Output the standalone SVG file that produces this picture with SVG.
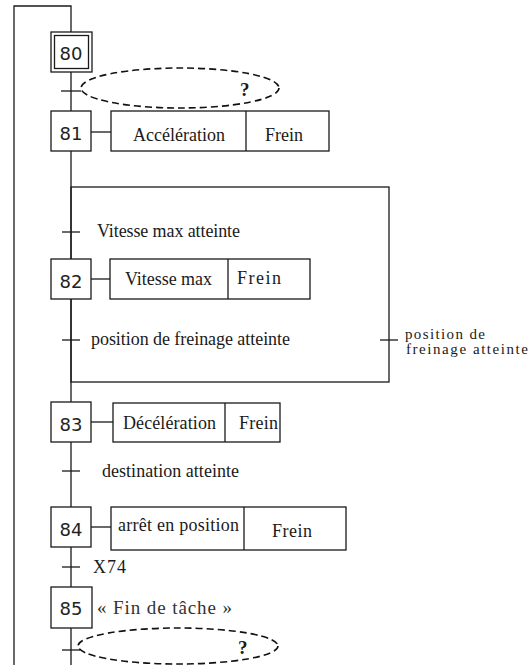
<svg xmlns="http://www.w3.org/2000/svg" width="529" height="665" viewBox="0 0 529 665">
<style>
.ln{stroke:#1a1a1a;stroke-width:1.3;fill:none}
.bx{stroke:#1a1a1a;stroke-width:1.3;fill:#fff}
.num{font-family:"DejaVu Sans",sans-serif;font-size:18px;fill:#222;text-anchor:middle}
.lb{font-family:"Liberation Serif",serif;font-size:18px;fill:#1a1a1a}
.sm{font-family:"Liberation Serif",serif;font-size:15px;fill:#1a1a1a}
.q{font-family:"Liberation Serif",serif;font-size:19px;font-weight:bold;fill:#1a1a1a}
.el{stroke:#111;stroke-width:1.6;fill:none;stroke-dasharray:7 4}
</style>
<rect width="529" height="665" fill="#fff"/>
<g id="connectors">
<polyline class="ln" points="14,665 14,6 71,6 71,665"/>
<rect class="ln" x="71" y="187" width="318" height="195"/>
<line class="ln" x1="61" y1="91" x2="81" y2="91"/>
<line class="ln" x1="62" y1="232" x2="80" y2="232"/>
<line class="ln" x1="62" y1="340" x2="80" y2="340"/>
<line class="ln" x1="380" y1="340" x2="398" y2="340"/>
<line class="ln" x1="62" y1="471" x2="80" y2="471"/>
<line class="ln" x1="62" y1="567" x2="80" y2="567"/>
<line class="ln" x1="62" y1="650" x2="80" y2="650"/>
<line class="ln" x1="91" y1="132" x2="111" y2="132"/>
<line class="ln" x1="91" y1="279" x2="110" y2="279"/>
<line class="ln" x1="91" y1="422" x2="113" y2="422"/>
<line class="ln" x1="91" y1="527" x2="111" y2="527"/>
</g>
<g id="cond80">
<ellipse class="el" cx="180" cy="88" rx="99" ry="20"/>
<text class="q" x="240" y="96">?</text>
</g>
<g id="step80">
<rect class="bx" x="51" y="32" width="41" height="40"/>
<rect class="bx" x="54.5" y="35.5" width="34" height="33"/>
<text class="num" x="71" y="60">80</text>
</g>
<g id="step81">
<rect class="bx" x="51" y="111" width="40" height="40"/>
<text class="num" x="71" y="140">81</text>
</g>
<g id="action81">
<rect class="bx" x="111" y="111" width="218" height="40"/>
<line class="ln" x1="246" y1="111" x2="246" y2="151"/>
<text class="lb" x="133" y="141" textLength="92">Accélération</text>
<text class="lb" x="265" y="141" textLength="38">Frein</text>
</g>
<g id="t81">
<text class="lb" x="97" y="237" textLength="143">Vitesse max atteinte</text>
</g>
<g id="step82">
<rect class="bx" x="51" y="259" width="40" height="40"/>
<text class="num" x="71" y="288">82</text>
</g>
<g id="action82">
<rect class="bx" x="110" y="259" width="200" height="40"/>
<line class="ln" x1="228" y1="259" x2="228" y2="299"/>
<text class="lb" x="125" y="285" textLength="87">Vitesse max</text>
<text class="lb" x="237" y="284" textLength="44">Frein</text>
</g>
<g id="t82">
<text class="lb" x="91" y="345" textLength="199">position de freinage atteinte</text>
</g>
<g id="t81b">
<text class="sm" x="405" y="339" textLength="80">position de</text>
<text class="sm" x="406" y="354" textLength="122">freinage atteinte</text>
</g>
<g id="step83">
<rect class="bx" x="51" y="402" width="40" height="40"/>
<text class="num" x="71" y="431">83</text>
</g>
<g id="action83">
<rect class="bx" x="113" y="403" width="167" height="39"/>
<line class="ln" x1="225" y1="403" x2="225" y2="442"/>
<text class="lb" x="123" y="429" textLength="93">Décélération</text>
<text class="lb" x="239" y="429" textLength="39">Frein</text>
</g>
<g id="t83">
<text class="lb" x="102" y="477" textLength="137">destination atteinte</text>
</g>
<g id="step84">
<rect class="bx" x="51" y="507" width="40" height="40"/>
<text class="num" x="71" y="536">84</text>
</g>
<g id="action84">
<rect class="bx" x="111" y="507" width="235" height="43"/>
<line class="ln" x1="244" y1="507" x2="244" y2="550"/>
<text class="lb" x="118" y="531" textLength="121">arrêt en position</text>
<text class="lb" x="272" y="537" textLength="40">Frein</text>
</g>
<g id="t84">
<text class="lb" x="93" y="573" textLength="33">X74</text>
</g>
<g id="step85">
<rect class="bx" x="51" y="587" width="41" height="41"/>
<text class="num" x="71" y="615">85</text>
<text x="97" y="614" font-family="Liberation Serif, serif" font-size="19" fill="#333" textLength="135">« Fin de tâche »</text>
</g>
<g id="cond85">
<ellipse class="el" cx="178" cy="646" rx="100" ry="18"/>
<text class="q" x="238" y="654">?</text>
</g>
</svg>
